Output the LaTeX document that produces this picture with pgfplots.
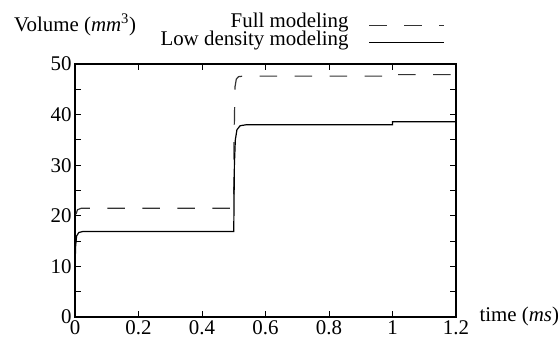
\documentclass[border=0pt]{standalone}
\usepackage{fontspec}
\setmainfont{Liberation Serif}
\usepackage{pgfplots}
\pgfplotsset{compat=1.18}
\newcommand{\fs}{\fontsize{20.9bp}{22bp}\selectfont}
\begin{document}
\begin{tikzpicture}[font=\fs]
\begin{axis}[
  name=ax,
  scale only axis,
  width=381bp, height=253bp,
  xmin=0, xmax=1.2, ymin=0, ymax=50,
  xtick={0,0.2,0.4,0.6,0.8,1,1.2},
  xticklabels={0,0.2,0.4,0.6,0.8,1,1.2},
  ytick={0,10,20,30,40,50},
  yticklabels={0,10,20,30,40,50},
  minor y tick num=1,
  tick align=inside,
  tick pos=both,
  xticklabel pos=lower, yticklabel pos=left,
  major tick length=6bp, minor tick length=6bp,
  every tick/.style={black, line width=1bp},
  axis line style={line width=1.5bp},
  /pgf/number format/assume math mode=true,
  ticklabel style={font=\fs},
  legend style={at={(1,1)}, anchor=south east, xshift=-11bp, yshift=17bp,
    draw=none, fill=none, inner sep=0pt, row sep=1.5bp, column sep=20bp,
    font=\fs, nodes={inner sep=0pt}},
  legend cell align=right,
  legend plot pos=right,
  legend image code/.code={\draw[#1] (0bp,-4bp) -- (75bp,-4bp);},
  clip=false,
]
\addplot[black!80, line width=1.2bp, dash pattern=on 17.5bp off 17.5bp] coordinates {
 (0.003,20.3) (0.008,21.2) (0.02,21.5) (0.5,21.5) (0.501,35) (0.504,45.5) (0.508,47) (0.515,47.5) (0.53,47.6)
 (1.0,47.6) (1.0,47.9) (1.2,47.9)
};
\addlegendentry{Full modeling}
\addplot[black, line width=1.2bp] coordinates {
 (0,10) (0.002,14) (0.005,16) (0.012,16.7) (0.025,16.9) (0.5,16.9)
 (0.502,30) (0.505,35) (0.51,37) (0.52,37.8) (0.54,38) (1.0,38) (1.0,38.6) (1.2,38.6)
};
\addlegendentry{Low density modeling}
\node[anchor=base west, xshift=-64.3bp, yshift=33bp] at (rel axis cs:0,1) {Volume (\textit{mm}\textsuperscript{3})};
\node[anchor=base west, xshift=20bp, yshift=-4bp] at (rel axis cs:1,0) {time (\textit{ms})};
\end{axis}
\pgfresetboundingbox
\path ([xshift=-75bp,yshift=-21bp]ax.south west) rectangle ([xshift=103bp,yshift=64bp]ax.north east);
\end{tikzpicture}
\end{document}
